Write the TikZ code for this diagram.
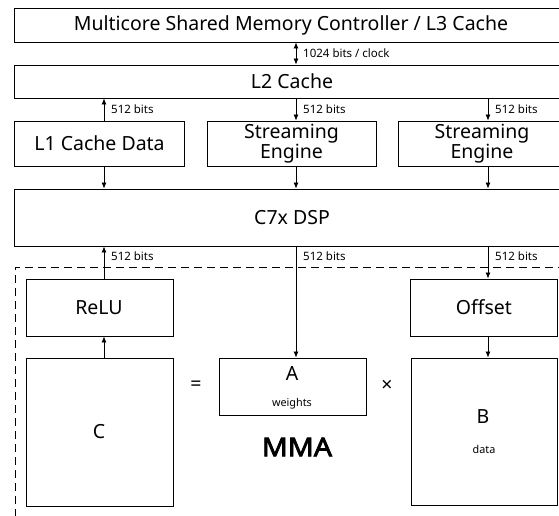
\documentclass[tikz,border=0pt]{standalone}
\usepackage{fontspec}
\setmainfont{Noto Sans}
\newfontfamily\mmafont{Noto Sans}[FakeBold=3,FakeStretch=1.1]
\usetikzlibrary{arrows.meta}
\begin{document}
\begin{tikzpicture}[x=1pt,y=-1pt,
  blk/.style={draw,line width=0.9pt,rectangle,inner sep=0pt},
  big/.style={font=\fontsize{19.5}{21}\selectfont,inner sep=0pt},
  two/.style={font=\fontsize{19.5}{19}\selectfont,inner sep=0pt,align=center},
  small/.style={font=\fontsize{11.5}{13}\selectfont,inner sep=0pt,anchor=west},
  tiny/.style={font=\fontsize{10.8}{12}\selectfont,inner sep=0pt},
  arr/.style={line width=0.8pt,-{Latex[length=6pt,width=5pt]}},
  darr/.style={line width=0.8pt,{Latex[length=6pt,width=5pt]}-{Latex[length=6pt,width=5pt]}}]
\useasboundingbox (0,0) rectangle (559,515);
\clip (0,0) rectangle (559,515);
% upper boxes
\node[blk,minimum width=590pt,minimum height=34pt] (l3) at (309,25) {};
\node[big] (l3t) at (291,25) {Multicore Shared Memory Controller / L3 Cache};
\node[blk,minimum width=590pt,minimum height=33pt] (l2) at (309,81.5) {};
\node[big] (l2t) at (292,81.5) {L2 Cache};
\node[blk,minimum width=170pt,minimum height=45pt] (l1) at (99,143.5) {};
\node[big] (l1t) at (99.5,143.5) {L1 Cache Data};
\node[blk,minimum width=169pt,minimum height=45pt] (se1) at (291.5,143.5) {};
\node[two] (se1t) at (291.5,143.5) {Streaming\\Engine};
\node[blk,minimum width=182pt,minimum height=45pt] (se2) at (489,143.5) {};
\node[two] (se2t) at (482,143.5) {Streaming\\Engine};
\node[blk,minimum width=590pt,minimum height=57pt] (dsp) at (309,217.5) {};
\node[big] (dspt) at (292,217.5) {C7x DSP};
% dashed MMA region
\draw[line width=0.9pt,dash pattern=on 8pt off 5pt] (15,530) coordinate (dbl) -- (15,267) coordinate (dtl) -- (580,267) coordinate (dtr);
% MMA boxes
\node[blk,minimum width=147pt,minimum height=57pt] (relu) at (99.5,307.5) {};
\node[big] (relut) at (99,307.5) {ReLU};
\node[blk,minimum width=147pt,minimum height=57pt] (off) at (483.5,307.5) {};
\node[big] (offt) at (484,307.5) {Offset};
\node[blk,minimum width=147pt,minimum height=148pt] (c) at (99.5,432) {};
\node[big] (ct) at (99,432) {C};
\node[blk,minimum width=147pt,minimum height=57pt] (a) at (292.5,386.5) {};
\node[big] (at) at (292,373) {A};
\node[tiny] (aw) at (292,404) {weights};
\node[blk,minimum width=146pt,minimum height=147pt] (b) at (484,431.5) {};
\node[big] (bt) at (483,417) {B};
\node[tiny] (bd) at (484,449) {data};
\node[big] (eq) at (196,386) {=};
\node[big] (times) at (387,386) {×};
\node[font=\mmafont\fontsize{26}{30}\selectfont,inner sep=0pt] (mma) at (297,447) {MMA};
% connectors
\draw[darr] (l3.south -| 296,0) -- (l2.north -| 296,0);
\node[small] (lab0) at (303,53) {1024 bits / clock};
\draw[arr] (l1.north -| 104,0) -- (l2.south -| 104,0);
\draw[arr] (l2.south -| 296,0) -- (se1.north -| 296,0);
\draw[arr] (l2.south -| 488,0) -- (se2.north -| 488,0);
\node[small] (lab1) at (111,109) {512 bits};
\node[small] (lab2) at (303,109) {512 bits};
\node[small] (lab3) at (495,109) {512 bits};
\draw[arr] (l1.south -| 104,0) -- (dsp.north -| 104,0);
\draw[arr] (se1.south -| 296,0) -- (dsp.north -| 296,0);
\draw[arr] (se2.south -| 488,0) -- (dsp.north -| 488,0);
\draw[arr] (relu.north -| 104,0) -- (dsp.south -| 104,0);
\draw[arr] (dsp.south -| 296,0) -- (a.north -| 296,0);
\draw[arr] (dsp.south -| 488,0) -- (off.north -| 488,0);
\node[small] (lab4) at (111,256) {512 bits};
\node[small] (lab5) at (303,256) {512 bits};
\node[small] (lab6) at (495,256) {512 bits};
\draw[arr] (c.north -| 104,0) -- (relu.south -| 104,0);
\draw[arr] (off.south -| 488,0) -- (b.north -| 488,0);
\end{tikzpicture}
\end{document}
